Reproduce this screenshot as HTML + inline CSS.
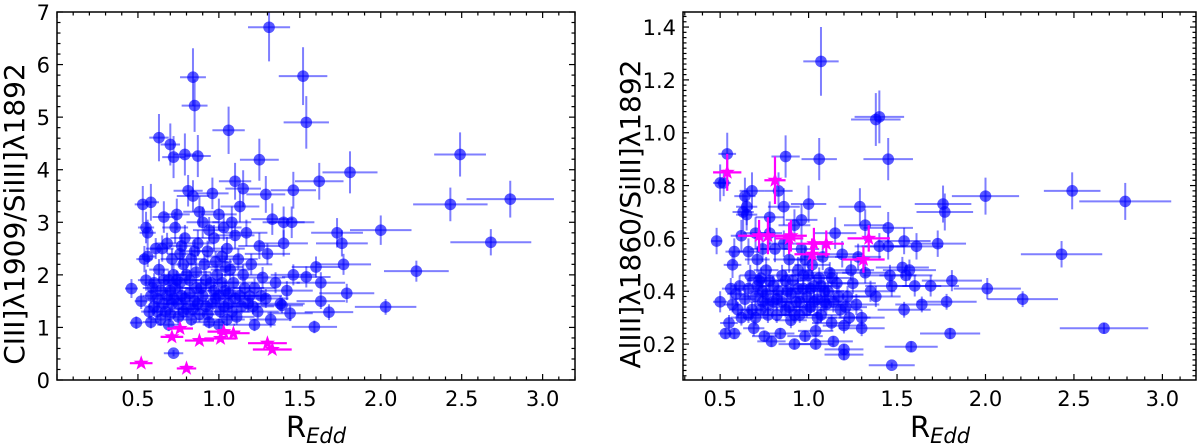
<!DOCTYPE html>
<html><head><meta charset="utf-8"><style>
body{margin:0;background:#fff}
svg{display:block;font-family:"DejaVu Sans","Liberation Sans",sans-serif}
</style></head><body>
<svg id="fig" width="1200" height="444" viewBox="0 0 1200 444">
<text x="24" y="214" font-size="28" text-anchor="middle" transform="rotate(-90 24 214)">CIII]λ1909/SiIII]λ1892</text>
<text x="316" y="437" font-size="29" text-anchor="middle">R<tspan font-size="21" font-style="italic" dy="6">Edd</tspan></text>
<text x="640" y="214" font-size="28" text-anchor="middle" transform="rotate(-90 640 214)">AlIII]λ1860/SiIII]λ1892</text>
<text x="940" y="437" font-size="29" text-anchor="middle">R<tspan font-size="21" font-style="italic" dy="6">Edd</tspan></text>
</svg>
<script>
// Left panel: blue quasars [x, y, xerr, yerr]
const leftBlue = [
[1.31,6.71,.13,.65],[0.84,5.76,.08,.55],[0.85,5.22,.08,.5],[1.52,5.78,.15,.55],[1.54,4.9,.14,.5],[1.06,4.75,.1,.45],[0.63,4.61,.06,.45],[0.70,4.48,.06,.4],[0.72,4.24,.07,.4],[0.79,4.29,.07,.4],[0.87,4.26,.08,.4],[1.25,4.19,.12,.4],[2.49,4.29,.16,.42],[1.81,3.95,.17,.4],[1.62,3.78,.15,.35],[2.43,3.34,.23,.32],[2.80,3.44,.27,.35],[2.68,2.62,.25,.25],[2.0,2.85,.19,.28],[2.22,2.07,.2,.2],[2.03,1.39,.19,.15],[1.73,2.8,.16,.28],[1.76,2.6,.16,.25],[1.77,2.2,.17,.2],[1.79,1.65,.17,.18],[1.68,1.29,.15,.15],[1.59,1.01,.14,.12],[1.63,1.5,.15,.15],[1.63,1.85,.15,.2],[1.60,2.15,.15,.2],[1.54,1.96,.15,.2],[1.46,2.0,.14,.2],[1.46,3.61,.14,.35],[1.29,3.53,.12,.35],[1.10,3.78,.1,.35],[1.15,3.64,.11,.35],[1.45,3.0,.14,.3],[1.40,3.0,.13,.3],[1.33,3.06,.13,.3],[1.44,1.27,.14,.15],[1.39,1.42,.13,.15],[0.53,3.34,.05,.35],[0.58,3.38,.05,.35],[0.46,1.74,.04,.18],[0.49,1.09,.04,.12],[0.72,0.51,.06,.06],
[0.55,2.9,.05,.3],[0.56,2.8,.05,.25],[0.54,2.3,.05,.25],[0.56,2.35,.05,.2],[0.55,1.9,.05,.2],[0.52,1.5,.04,.15],[0.58,1.1,.05,.12],[0.6,1.4,.06,.15],[0.62,1.55,.06,.15],[0.63,2.1,.06,.2],[0.65,2.5,.07,.25],[0.66,1.9,.07,.2],[0.67,1.3,.07,.15],[0.68,2.6,.07,.2],[0.70,1.7,.08,.2],[0.71,1.45,.08,.15],[0.72,2.0,.08,.2],[0.73,2.9,.08,.3],[0.74,3.15,.08,.3],[0.75,1.2,.07,.15],[0.76,2.4,.08,.25],[0.77,1.6,.08,.18],[0.78,2.2,.08,.22],[0.79,2.7,.09,.25],[0.80,1.35,.08,.15],[0.81,3.6,.09,.3],[0.82,1.9,.09,.2],[0.83,2.3,.09,.22],[0.84,3.5,.1,.3],[0.85,1.5,.09,.15],[0.86,2.05,.09,.2],[0.87,2.6,.1,.25],[0.88,1.25,.09,.15],[0.89,1.75,.1,.2],[0.90,3.0,.1,.3],[0.91,2.2,.1,.2],[0.92,1.4,.1,.15],[0.93,2.45,.1,.2],[0.94,1.1,.1,.12],[0.95,1.85,.1,.2],[0.96,3.55,.1,.3],[0.97,2.7,.1,.25],[0.98,1.55,.1,.15],[0.99,2.0,.1,.2],[1.0,3.15,.11,.3],[1.01,1.3,.1,.15],[1.02,2.35,.11,.2],[1.03,2.9,.11,.25],[1.04,1.7,.11,.2],[1.05,2.5,.11,.22],[1.06,1.45,.11,.15],[1.07,2.1,.12,.2],[1.08,3.0,.12,.3],[1.09,1.85,.12,.2],[1.10,2.75,.12,.25],[1.11,1.2,.11,.15],[1.12,2.3,.12,.2],[1.13,1.6,.12,.18],[1.15,2.0,.12,.2],[1.17,2.8,.13,.25],[1.18,1.45,.12,.15],[1.20,2.2,.13,.2],[1.22,1.75,.13,.18],[1.24,1.3,.13,.15],[1.25,2.55,.13,.25],[1.27,1.95,.14,.2],[1.29,1.55,.14,.18],[1.30,2.4,.14,.2],[1.32,1.15,.13,.15],[1.35,1.85,.15,.2],[1.38,1.45,.15,.15],[1.40,2.6,.15,.25],[1.42,1.7,.16,.18],[0.64,1.15,.06,.12],[0.69,1.05,.07,.12],[0.59,1.75,.06,.18],[0.61,2.5,.06,.2],[0.57,1.3,.05,.15],[0.74,1.9,.08,.18],[0.83,1.15,.09,.12],[1.0,1.05,.1,.12],[1.05,1.15,.11,.12],[1.22,1.05,.13,.12],[1.13,3.3,.12,.3],[0.94,2.85,.1,.25],[0.88,3.2,.1,.3],[0.66,3.1,.07,.3],
[0.58,1.6,.05,.15],[0.60,1.85,.06,.18],[0.62,1.3,.06,.15],[0.64,1.7,.06,.18],[0.66,1.45,.07,.15],[0.68,1.6,.07,.15],[0.69,1.9,.07,.18],[0.70,1.25,.07,.15],[0.72,1.55,.07,.15],[0.73,1.75,.08,.18],[0.75,1.45,.08,.15],[0.76,1.85,.08,.18],[0.78,1.3,.08,.15],[0.79,1.55,.08,.15],[0.80,2.0,.08,.2],[0.82,1.65,.09,.15],[0.84,1.35,.09,.15],[0.86,1.75,.09,.18],[0.87,1.45,.09,.15],[0.90,1.6,.1,.15],[0.92,1.9,.1,.18],[0.93,1.25,.1,.15],[0.96,1.45,.1,.15],[0.97,1.7,.1,.18],[1.0,1.6,.1,.15],[1.02,1.85,.1,.18],[1.03,1.4,.11,.15],[1.06,1.65,.11,.15],[1.08,1.3,.11,.15],[1.10,1.55,.11,.15],[1.14,1.4,.12,.15],[1.16,1.75,.12,.18],[1.19,1.6,.12,.15],[1.21,1.4,.13,.15],[1.26,1.6,.13,.15],[0.71,2.3,.07,.2],[0.77,2.55,.08,.22],[0.85,2.45,.09,.22],[0.98,2.25,.1,.2],[1.04,2.15,.11,.2]
];
const leftPink = [[0.52,0.32,.07,.03],[0.80,0.22,.06,.03],[0.71,0.82,.07,.04],[0.76,0.98,.08,.05],[0.88,0.75,.09,.04],[1.01,0.79,.1,.04],[1.03,0.92,.1,.05],[1.09,0.89,.1,.05],[1.30,0.70,.12,.04],[1.33,0.58,.12,.04]];
const leftYTicks = [0,1,2,3,4,5,6,7];
const xTicks = [0.5,1.0,1.5,2.0,2.5,3.0];

// Right panel
const rightBlue = [
[1.07,1.27,.1,.13],[1.38,1.05,.14,.1],[1.40,1.06,.14,.1],[1.06,0.90,.1,.08],[1.45,0.90,.14,.08],[0.87,0.91,.08,.08],[0.54,0.92,.05,.08],[0.50,0.81,.04,.07],[0.48,0.59,.03,.05],[2.49,0.78,.16,.07],[2.79,0.74,.26,.07],[2.0,0.76,.19,.07],[2.43,0.54,.23,.05],[2.21,0.37,.2,.03],[2.01,0.41,.19,.04],[2.67,0.26,.25,.02],[1.76,0.73,.16,.07],[1.77,0.70,.16,.07],[1.73,0.58,.16,.05],[1.80,0.24,.17,.02],[1.78,0.36,.17,.03],[1.81,0.44,.17,.04],[1.69,0.42,.16,.04],[1.64,0.35,.15,.03],[1.60,0.42,.15,.04],[1.61,0.57,.15,.05],[1.54,0.59,.15,.05],[1.54,0.33,.15,.03],[1.58,0.19,.15,.02],[1.47,0.12,.13,.01],[1.20,0.18,.11,.02],[1.20,0.16,.11,.02],[1.14,0.21,.11,.02],[1.04,0.20,.1,.02],[0.92,0.20,.09,.02],[1.29,0.72,.12,.07],[1.32,0.65,.12,.06],[1.45,0.64,.14,.06],[1.0,0.73,.1,.07],[0.96,0.67,.09,.06],
[0.5,0.36,.04,.04],[0.53,0.24,.04,.02],[0.58,0.24,.04,.02],[0.55,0.28,.05,.03],[0.56,0.41,.05,.04],[0.57,0.50,.05,.05],[0.58,0.55,.05,.05],[0.6,0.33,.05,.03],[0.61,0.42,.05,.04],[0.62,0.61,.06,.06],[0.63,0.70,.06,.07],[0.64,0.76,.06,.07],[0.65,0.72,.06,.07],[0.66,0.31,.06,.03],[0.67,0.46,.06,.04],[0.68,0.78,.07,.07],[0.69,0.26,.06,.03],[0.70,0.38,.07,.04],[0.71,0.52,.07,.05],[0.72,0.44,.07,.04],[0.73,0.33,.07,.03],[0.74,0.40,.07,.04],[0.75,0.23,.07,.02],[0.76,0.48,.07,.05],[0.77,0.35,.08,.04],[0.78,0.68,.08,.06],[0.79,0.21,.08,.02],[0.80,0.42,.08,.04],[0.81,0.56,.08,.05],[0.82,0.37,.08,.04],[0.83,0.78,.08,.07],[0.84,0.24,.08,.02],[0.85,0.46,.08,.04],[0.86,0.72,.09,.07],[0.87,0.33,.09,.03],[0.88,0.40,.09,.04],[0.89,0.52,.09,.05],[0.90,0.29,.09,.03],[0.91,0.44,.09,.04],[0.93,0.36,.09,.04],[0.94,0.48,.09,.05],[0.95,0.31,.1,.03],[0.96,0.56,.1,.05],[0.97,0.41,.1,.04],[0.98,0.23,.1,.02],[0.99,0.38,.1,.04],[1.0,0.46,.1,.04],[1.01,0.34,.1,.03],[1.02,0.50,.1,.05],[1.03,0.42,.1,.04],[1.04,0.25,.1,.03],[1.05,0.37,.11,.04],[1.06,0.45,.11,.04],[1.07,0.31,.11,.03],[1.08,0.53,.11,.05],[1.09,0.40,.11,.04],[1.10,0.35,.11,.04],[1.12,0.47,.11,.04],[1.13,0.28,.11,.03],[1.14,0.36,.12,.04],[1.15,0.62,.12,.06],[1.16,0.43,.12,.04],[1.18,0.33,.12,.03],[1.19,0.54,.12,.05],[1.20,0.27,.12,.03],[1.22,0.38,.12,.04],[1.24,0.48,.13,.04],[1.25,0.43,.13,.04],[1.27,0.35,.13,.04],[1.28,0.53,.13,.05],[1.30,0.30,.13,.03],[1.30,0.26,.13,.03],[1.32,0.47,.13,.04],[1.35,0.40,.14,.04],[1.38,0.38,.14,.04],[1.40,0.57,.14,.05],[1.45,0.57,.15,.05],[1.46,0.46,.15,.04],[1.47,0.42,.15,.04],[1.53,0.49,.15,.04],[1.55,0.46,.15,.04],[1.57,0.48,.15,.04],[0.65,0.69,.06,.06],[0.52,0.81,.04,.05],[0.78,0.62,.07,.06],[0.92,0.65,.09,.06],
[0.57,0.35,.05,.03],[0.59,0.39,.05,.04],[0.62,0.30,.06,.03],[0.64,0.37,.06,.04],[0.66,0.41,.06,.04],[0.68,0.33,.06,.03],[0.70,0.30,.07,.03],[0.71,0.42,.07,.04],[0.73,0.45,.07,.04],[0.74,0.36,.07,.04],[0.76,0.39,.07,.04],[0.77,0.31,.08,.03],[0.78,0.44,.08,.04],[0.80,0.36,.08,.04],[0.82,0.31,.08,.03],[0.83,0.40,.08,.04],[0.85,0.36,.08,.04],[0.87,0.44,.09,.04],[0.89,0.34,.09,.03],[0.90,0.39,.09,.04],[0.92,0.31,.09,.03],[0.94,0.41,.09,.04],[0.95,0.36,.1,.04],[0.97,0.46,.1,.04],[0.99,0.33,.1,.03],[1.01,0.41,.1,.04],[1.03,0.36,.1,.04],[1.05,0.30,.11,.03],[1.07,0.42,.11,.04],[1.09,0.36,.11,.04],[1.11,0.40,.11,.04],[1.13,0.45,.11,.04],[1.17,0.38,.12,.04],[1.21,0.34,.12,.03],[1.23,0.30,.12,.03],[0.66,0.55,.06,.05],[0.70,0.62,.07,.06],[0.74,0.56,.07,.05],[0.86,0.58,.09,.05],[0.98,0.52,.1,.05]
];
const rightPink = [[0.54,0.85,.08,.07],[0.81,0.82,.06,.09],[0.72,0.61,.12,.06],[0.77,0.61,.1,.07],[0.89,0.60,.08,.06],[0.90,0.61,.09,.06],[1.03,0.58,.1,.06],[1.02,0.54,.1,.06],[1.10,0.58,.1,.05],[1.31,0.52,.12,.05],[1.34,0.60,.12,.05]];
const rightYTicks = [0.2,0.4,0.6,0.8,1.0,1.2,1.4];

const NS='http://www.w3.org/2000/svg';
const svg=document.getElementById('fig');
function mk(tag,attrs,parent){const e=document.createElementNS(NS,tag);for(const k in attrs)e.setAttribute(k,attrs[k]);(parent||svg).appendChild(e);return e;}
function starPts(cx,cy,R){const r=R*0.4;let p=[];for(let i=0;i<10;i++){const a=-Math.PI/2+i*Math.PI/5;const rr=i%2?r:R;p.push((cx+rr*Math.cos(a)).toFixed(1)+','+(cy+rr*Math.sin(a)).toFixed(1));}return p.join(' ');}

function panel(name,L,R,T,B,x0,x1,y0,y1,yTicks,yMinor,yFmt,blue,pink){
  const sx=v=>L+(v-x0)/(x1-x0)*(R-L);
  const sy=v=>B-(v-y0)/(y1-y0)*(B-T);
  const g=mk('g',{});
  
  
  const clip=mk('clipPath',{id:name+'clip'},g);mk('rect',{x:L,y:T,width:R-L,height:B-T},clip);
  const pg=mk('g',{'clip-path':'url(#'+name+'clip)'},g);
  blue.forEach(d=>{
    const e=mk('g',{},pg);
    
    
    mk('line',{x1:sx(d[0]-d[2]),x2:sx(d[0]+d[2]),y1:sy(d[1]),y2:sy(d[1]),stroke:'#0000ff','stroke-opacity':0.5,'stroke-width':2},e);
    mk('line',{x1:sx(d[0]),x2:sx(d[0]),y1:sy(d[1]-d[3]),y2:sy(d[1]+d[3]),stroke:'#0000ff','stroke-opacity':0.5,'stroke-width':2},e);
    mk('circle',{cx:sx(d[0]),cy:sy(d[1]),r:5.8,fill:'#0000ff','fill-opacity':0.65},e);
  });
  pink.forEach(d=>{
    const e=mk('g',{},pg);
    
    
    mk('line',{x1:sx(d[0]-d[2]),x2:sx(d[0]+d[2]),y1:sy(d[1]),y2:sy(d[1]),stroke:'#ff00ff','stroke-width':2.2},e);
    mk('line',{x1:sx(d[0]),x2:sx(d[0]),y1:sy(d[1]-d[3]),y2:sy(d[1]+d[3]),stroke:'#ff00ff','stroke-width':2.2},e);
    mk('polygon',{points:starPts(sx(d[0]),sy(d[1]),8),fill:'#ff00ff'},e);
  });
  const ax=mk('g',{stroke:'#000','stroke-width':1.2},g);
  
  
  for(let v=Math.ceil(x0*10)/10;v<=x1+1e-9;v+=0.1){const X=sx(v);const maj=Math.abs(v*2-Math.round(v*2))<1e-6;const l=maj?6:3.5;
    mk('line',{x1:X,x2:X,y1:B,y2:B-l},ax);mk('line',{x1:X,x2:X,y1:T,y2:T+l},ax);}
  for(let v=Math.ceil(y0/yMinor)*yMinor;v<=y1+1e-9;v+=yMinor){const Y=sy(v);
    const maj=yTicks.some(t=>Math.abs(t-v)<1e-6);const l=maj?6:3.5;
    mk('line',{x1:L,x2:L+l,y1:Y,y2:Y},ax);mk('line',{x1:R,x2:R-l,y1:Y,y2:Y},ax);}
  const fr=mk('rect',{x:L,y:T,width:R-L,height:B-T,fill:'none',stroke:'#000','stroke-width':1.5},g);
  
  
  xTicks.forEach(v=>{const t=mk('text',{x:sx(v),y:B+26,'font-size':21,'text-anchor':'middle'},g);t.textContent=v.toFixed(1);
    
    });
  yTicks.forEach(v=>{const t=mk('text',{x:L-7,y:sy(v)+8,'font-size':21,'text-anchor':'end'},g);t.textContent=yFmt(v);
    
    });
}
panel('left',57,575,12,380,0,3.2,0,7,leftYTicks,0.2,v=>String(v),leftBlue,leftPink);
panel('right',683,1196,12,380,0.29,3.19,0.064,1.457,rightYTicks,0.02,v=>v.toFixed(1),rightBlue,rightPink);
</script>
</body></html>
